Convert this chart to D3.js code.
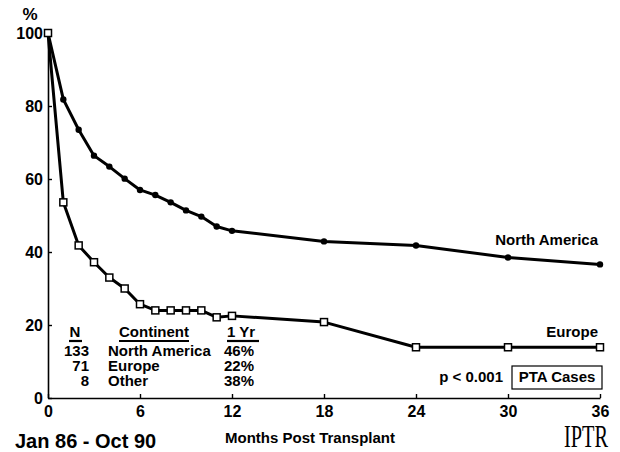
<!DOCTYPE html>
<html>
<head>
<meta charset="utf-8">
<script src="https://cdn.jsdelivr.net/npm/d3@7"></script>
<style>
  html, body { margin: 0; padding: 0; background: #fff; }
  svg { display: block; }
  text { font-family: "Liberation Sans", Arial, Helvetica, sans-serif; font-weight: bold; fill: #000; }
  text.logo { font-family: "Liberation Serif", "Times New Roman", serif; font-weight: normal; }
</style>
</head>
<body>
<svg id="chart" width="620" height="452"></svg>
<script>
// Survival after transplant by continent (PTA cases), months 0–36
const months = [0, 1, 2, 3, 4, 5, 6, 7, 8, 9, 10, 11, 12, 18, 24, 30, 36];
const northAmerica = [100, 81.8, 73.5, 66.4, 63.4, 60.1, 57.0, 55.6, 53.6, 51.4, 49.7, 47.0, 45.8, 42.9, 41.8, 38.5, 36.6];
const europe = [100, 53.6, 41.8, 37.2, 33.0, 30.0, 25.7, 24.0, 24.0, 24.0, 24.0, 22.1, 22.5, 20.8, 13.9, 13.9, 13.9];

const xTicks = [0, 6, 12, 18, 24, 30, 36];
const yTicks = [0, 20, 40, 60, 80, 100];

// Summary table
const tableN = [133, 71, 8];
const tableContinent = ["North America", "Europe", "Other"];
const tableOneYear = ["46%", "22%", "38%"];

const svg = d3.select("#chart");

const x = d3.scaleLinear().domain([0, 36]).range([48, 600]);
const y = d3.scaleLinear().domain([0, 100]).range([398, 33]);

// Axes
const xAxis = d3.axisBottom(x).tickValues(xTicks).tickSizeInner(-4).tickSizeOuter(0).tickPadding(8);
const yAxis = d3.axisLeft(y).tickValues(yTicks).tickSizeInner(-4).tickSizeOuter(0).tickPadding(5);

const gx = svg.append("g").attr("transform", `translate(0,${y(0)})`).call(xAxis);
const gy = svg.append("g").attr("transform", `translate(${x(0)},0)`).call(yAxis);

[gx, gy].forEach(g => {
  g.select(".domain").attr("stroke", "#000").attr("stroke-width", 1.6);
  g.selectAll(".tick line").attr("stroke", "#000").attr("stroke-width", 1.4);
  g.selectAll(".tick text")
    .style("font-size", "16px")
    .attr("fill", "#000");
});

// "%" unit label
svg.append("text").attr("x", 30).attr("y", 20).attr("text-anchor", "middle")
  .style("font-size", "17px").text("%");

// Lines
const line = d3.line().x(d => x(d[0])).y(d => y(d[1]));
const naData = months.map((m, i) => [m, northAmerica[i]]);
const euData = months.map((m, i) => [m, europe[i]]);

svg.append("path").datum(naData).attr("d", line)
  .attr("fill", "none").attr("stroke", "#000").attr("stroke-width", 3).attr("stroke-linejoin", "round");
svg.append("path").datum(euData).attr("d", line)
  .attr("fill", "none").attr("stroke", "#000").attr("stroke-width", 3).attr("stroke-linejoin", "round");

// Markers: filled dots for North America, open squares for Europe
svg.append("g").selectAll("circle").data(naData).join("circle")
  .attr("cx", d => x(d[0])).attr("cy", d => y(d[1])).attr("r", 3.2).attr("fill", "#000");

const sq = 7;
svg.append("g").selectAll("rect").data(euData).join("rect")
  .attr("x", d => x(d[0]) - sq / 2).attr("y", d => y(d[1]) - sq / 2)
  .attr("width", sq).attr("height", sq)
  .attr("fill", "#fff").attr("stroke", "#000").attr("stroke-width", 1.5);

// Series labels
svg.append("text").attr("x", 598).attr("y", 245).attr("text-anchor", "end")
  .style("font-size", "15px").text("North America");
svg.append("text").attr("x", 598).attr("y", 337).attr("text-anchor", "end")
  .style("font-size", "15px").text("Europe");

// Summary table
const tbl = svg.append("g");
tbl.append("text").attr("x", 75).attr("y", 337).attr("text-anchor", "middle").style("font-size", "15px").text("N");
tbl.append("text").attr("x", 119).attr("y", 337).style("font-size", "15px").text("Continent");
tbl.append("text").attr("x", 227).attr("y", 337).style("font-size", "15px").text("1 Yr");
[[69, 82], [119, 189], [227, 259]].forEach(([a, b]) => {
  tbl.append("line").attr("x1", a).attr("x2", b).attr("y1", 341).attr("y2", 341)
    .attr("stroke", "#000").attr("stroke-width", 2.2);
});
tableN.forEach((n, i) => {
  const yy = 356 + i * 15;
  tbl.append("text").attr("x", 89).attr("y", yy).attr("text-anchor", "end").style("font-size", "15px").text(n);
  tbl.append("text").attr("x", 108).attr("y", yy).style("font-size", "15px").text(tableContinent[i]);
  tbl.append("text").attr("x", 224).attr("y", yy).style("font-size", "15px").text(tableOneYear[i]);
});

// Significance and case-type box
svg.append("text").attr("x", 503).attr("y", 382).attr("text-anchor", "end")
  .style("font-size", "15px").text("p < 0.001");
svg.append("rect").attr("x", 512).attr("y", 366).attr("width", 90).attr("height", 23)
  .attr("fill", "none").attr("stroke", "#000").attr("stroke-width", 1.2);
svg.append("text").attr("x", 557).attr("y", 382).attr("text-anchor", "middle")
  .style("font-size", "15px").text("PTA Cases");

// Footer
svg.append("text").attr("x", 15).attr("y", 448).style("font-size", "20px").text("Jan 86 - Oct 90");
svg.append("text").attr("x", 225).attr("y", 443).style("font-size", "15px").text("Months Post Transplant");
svg.append("text").attr("class", "logo").attr("x", 564).attr("y", 447)
  .style("font-size", "32px")
  .attr("textLength", 44).attr("lengthAdjust", "spacingAndGlyphs")
  .text("IPTR");
</script>
</body>
</html>
